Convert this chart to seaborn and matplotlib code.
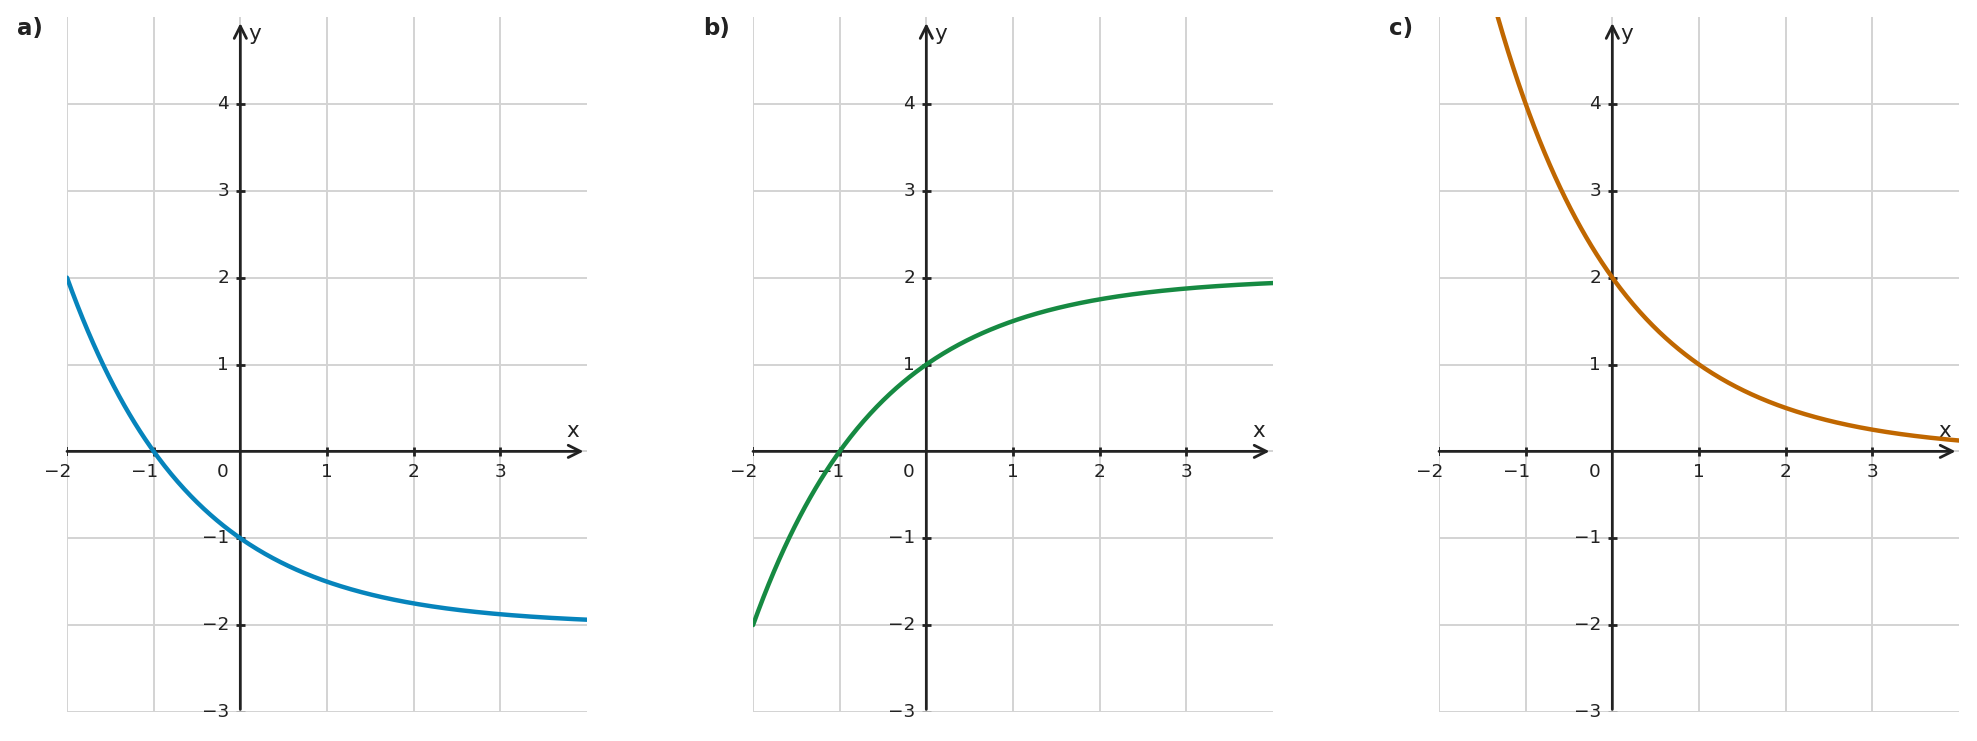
import numpy as np
import pandas as pd
import matplotlib
matplotlib.use("Agg")
import matplotlib.pyplot as plt
import seaborn as sns

# ---- data ----
panel_labels = ["a)", "b)", "c)"]
# curves of the form y = scale * base**(-x) + shift
bases = [2.0, 2.0, 2.0]
scales = [1.0, -1.0, 2.0]
shifts = [-2.0, 2.0, 0.0]
colors = ["#0684BC", "#168A42", "#C06700"]
x_ticks = [-2, -1, 0, 1, 2, 3]
y_ticks = [-3, -2, -1, 1, 2, 3, 4]
x_min, x_max = -2, 4
y_min, y_max = -3, 5

sns.set_theme(style="white")
plt.rcParams['font.family'] = ['DejaVu Sans']

W, H = 1977, 741
fig = plt.figure(figsize=(W / 100, H / 100), dpi=100)
lefts_px = [67, 753, 1439]
ax_w_px, top_px, bot_px = 520, 17, 712
axis_col = "#222222"
grid_col = "#d3d3d3"
fs = 13.3

for i in range(3):
    ax = fig.add_axes([lefts_px[i] / W, (H - bot_px) / H, ax_w_px / W, (bot_px - top_px) / H])
    ax.set_xlim(x_min, x_max)
    ax.set_ylim(y_min, y_max)
    for s in ax.spines.values():
        s.set_visible(False)
    ax.set_xticks(x_ticks)
    ax.set_yticks([-3, -2, -1, 0, 1, 2, 3, 4])
    ax.tick_params(length=0, labelbottom=False, labelleft=False)
    ax.grid(True, color=grid_col, lw=1.4, zorder=0)
    ax.set_axisbelow(True)

    xs = np.linspace(x_min, x_max, 400)
    ys = scales[i] * bases[i] ** (-xs) + shifts[i]
    df = pd.DataFrame({"x": xs, "y": ys})
    sns.lineplot(data=df, x="x", y="y", ax=ax, color=colors[i], lw=3.2, zorder=4, sort=False)
    ax.set_xlabel("")
    ax.set_ylabel("")

    # axes with arrows
    ax.annotate("", xy=(3.96, 0), xytext=(-2.0, 0),
                arrowprops=dict(arrowstyle="->", lw=2, color=axis_col, mutation_scale=22,
                                shrinkA=0, shrinkB=0), zorder=3)
    ax.annotate("", xy=(0, 4.93), xytext=(0, -2.97),
                arrowprops=dict(arrowstyle="->", lw=2, color=axis_col, mutation_scale=22,
                                shrinkA=0, shrinkB=0), zorder=3)
    # ticks
    tl = 0.055
    for xt in x_ticks:
        if xt == 0:
            continue
        ax.plot([xt, xt], [-tl * 1.0, tl * 1.0], color=axis_col, lw=2 if xt != -2 else 1.3,
                zorder=3, solid_capstyle="butt")
        if xt < 0:
            ax.text(xt + 0.055, -0.13, "\u2212%d" % abs(xt), ha="right", va="top",
                    fontsize=fs, color=axis_col)
        else:
            ax.text(xt, -0.13, str(xt), ha="center", va="top", fontsize=fs, color=axis_col)
    ax.text(-0.2, -0.13, "0", ha="center", va="top", fontsize=fs, color=axis_col)
    for yt in y_ticks:
        ax.plot([-tl, tl], [yt, yt], color=axis_col, lw=2 if yt != -3 else 1.0, zorder=3,
                solid_capstyle="butt")
        ax.text(-0.13, yt, "\u2212%d" % abs(yt) if yt < 0 else str(yt), ha="right", va="center",
                fontsize=fs, color=axis_col)
    ax.text(3.84, 0.24, "x", ha="center", va="center", fontsize=15.5, color=axis_col)
    ax.text(0.09, 4.8, "y", ha="left", va="center", fontsize=15.5, color=axis_col)

    fig.text((lefts_px[i] - 50) / W, (H - 28) / H, panel_labels[i], ha="left", va="center",
             fontsize=16.5, fontweight="bold", color=axis_col)

fig.savefig("out.png", dpi=100)
